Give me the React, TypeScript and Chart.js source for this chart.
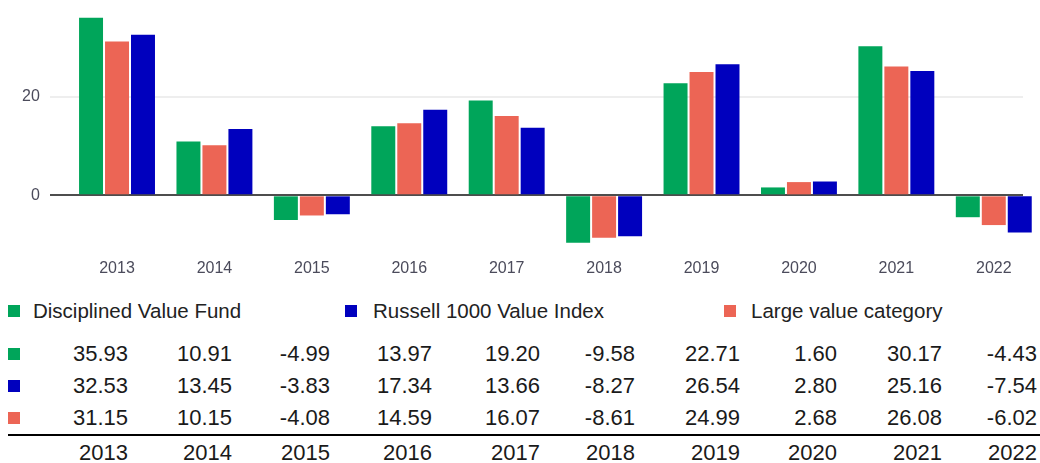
import React, { useEffect, useRef } from "react";
import { Chart, registerables } from "chart.js";

Chart.register(...registerables);

// ---- data ----
const years = ["2013", "2014", "2015", "2016", "2017", "2018", "2019", "2020", "2021", "2022"];
const fundValues = [35.93, 10.91, -4.99, 13.97, 19.2, -9.58, 22.71, 1.6, 30.17, -4.43];
const indexValues = [32.53, 13.45, -3.83, 17.34, 13.66, -8.27, 26.54, 2.8, 25.16, -7.54];
const categoryValues = [31.15, 10.15, -4.08, 14.59, 16.07, -8.61, 24.99, 2.68, 26.08, -6.02];
const yTickValues = [0, 20];
const seriesNames = ["Disciplined Value Fund", "Russell 1000 Value Index", "Large value category"];

// ---- styles ----
const GREEN = "#00a55a";
const BLUE = "#0000be";
const SALMON = "#ec6555";
const FONT = "'Liberation Sans', Arial, sans-serif";
const TICK_COLOR = "#4b4b5b";
const COL_RIGHT = [128, 232, 330, 432, 540, 635, 740, 837, 942, 1037];

const fmt = (v: number) => v.toFixed(2);

export default function App() {
  const ref = useRef<HTMLCanvasElement>(null);

  useEffect(() => {
    if (!ref.current) return;
    const toXY = (arr: number[]) => arr.map((v, i) => ({ x: i, y: v }));
    const chart = new Chart(ref.current, {
      type: "bar",
      data: {
        datasets: [
          { label: seriesNames[0], data: toXY(fundValues), backgroundColor: GREEN, clip: false as any },
          { label: seriesNames[2], data: toXY(categoryValues), backgroundColor: SALMON, clip: false as any },
          { label: seriesNames[1], data: toXY(indexValues), backgroundColor: BLUE, clip: false as any },
        ],
      },
      options: {
        responsive: true,
        maintainAspectRatio: false,
        animation: false,
        layout: { padding: { top: 10, left: 4, right: 9, bottom: 2 } },
        plugins: { legend: { display: false }, tooltip: { enabled: false } },
        datasets: { bar: { categoryPercentage: 0.8, barPercentage: 0.923 } },
        scales: {
          x: {
            type: "linear",
            min: -0.69,
            max: 9.3,
            offset: false,
            grid: { display: false, offset: false, drawTicks: false },
            border: { display: false },
            afterBuildTicks: (axis: any) => {
              axis.ticks = years.map((_, i) => ({ value: i }));
            },
            ticks: {
              autoSkip: false,
              maxRotation: 0,
              padding: 12,
              color: TICK_COLOR,
              font: { family: FONT, size: 16 },
              callback: (_v: any, i: number) => years[i],
            },
          },
          y: {
            min: -10.42,
            max: 33.96,
            afterBuildTicks: (axis: any) => {
              axis.ticks = yTickValues.map((v) => ({ value: v }));
            },
            grid: {
              drawTicks: false,
              lineWidth: 2,
              color: (ctx: any) => (ctx.tick && ctx.tick.value === 0 ? "#4d4d4d" : "#eeeeee"),
            },
            border: { display: false },
            ticks: {
              padding: 10,
              color: TICK_COLOR,
              font: { family: FONT, size: 16 },
            },
          },
        },
      } as any,
    });
    return () => chart.destroy();
  }, []);

  const legendItems = [
    { name: seriesNames[0], color: GREEN, sq: 8, tx: 33 },
    { name: seriesNames[1], color: BLUE, sq: 345, tx: 373 },
    { name: seriesNames[2], color: SALMON, sq: 724, tx: 751 },
  ];
  const rows = [
    { values: fundValues, color: GREEN, center: 354 },
    { values: indexValues, color: BLUE, center: 386 },
    { values: categoryValues, color: SALMON, center: 418 },
  ];

  return (
    <div style={{ position: "relative", fontFamily: FONT, width: 1040, height: 463, overflow: "hidden" }}>
      <style>{"html{overflow:hidden} body{margin:0}"}</style>
      <div style={{ position: "absolute", left: 8, top: 8, width: 1024, height: 284 }}>
        <canvas ref={ref} />
      </div>
      {legendItems.map((it) => (
        <React.Fragment key={it.name}>
          <div style={{ position: "absolute", left: it.sq, top: 304.5, width: 12, height: 12, background: it.color }} />
          <div
            style={{
              position: "absolute",
              left: it.tx,
              top: 294.5,
              height: 32,
              lineHeight: "32px",
              fontSize: 20.5,
              color: "#222",
              whiteSpace: "nowrap",
            }}
          >
            {it.name}
          </div>
        </React.Fragment>
      ))}
      {rows.map((r, ri) => (
        <React.Fragment key={ri}>
          <div style={{ position: "absolute", left: 8, top: r.center - 6, width: 12, height: 12, background: r.color }} />
          {r.values.map((v, i) => (
            <div
              key={i}
              style={{
                position: "absolute",
                left: COL_RIGHT[i] - 100,
                width: 100,
                top: r.center - 16,
                height: 32,
                lineHeight: "32px",
                textAlign: "right",
                fontSize: 22,
                color: "#1a1a1a",
              }}
            >
              {fmt(v)}
            </div>
          ))}
        </React.Fragment>
      ))}
      <div style={{ position: "absolute", left: 8, top: 434, width: 1032, height: 2, background: "#000" }} />
      {years.map((y, i) => (
        <div
          key={y}
          style={{
            position: "absolute",
            left: COL_RIGHT[i] - 100,
            width: 100,
            top: 453 - 16,
            height: 32,
            lineHeight: "32px",
            textAlign: "right",
            fontSize: 22,
            color: "#1a1a1a",
          }}
        >
          {y}
        </div>
      ))}
    </div>
  );
}
